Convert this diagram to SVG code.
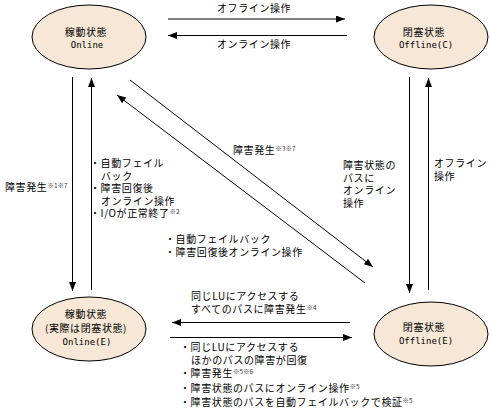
<svg xmlns="http://www.w3.org/2000/svg" width="491" height="412" viewBox="0 0 491 412">
<style>
.n{fill:#F7E7D6;stroke:#000;stroke-width:1}
.t{font-family:"Noto Sans CJK JP","Noto Sans",sans-serif;font-size:10px;letter-spacing:0.6px;fill:#000}
.c{text-anchor:middle}
.m{font-family:"DejaVu Sans Mono","Noto Sans CJK JP",monospace;font-size:9px;fill:#000;text-anchor:middle}
.s{font-size:6.5px;letter-spacing:0;fill:#333}
.l{stroke:#000;stroke-width:1;fill:none;marker-end:url(#ah)}
</style>
<defs>
<marker id="ah" markerUnits="userSpaceOnUse" markerWidth="10" markerHeight="8" refX="9" refY="3.5" orient="auto">
<path d="M0,0 L9,3.5 L0,7 z" fill="#000"/>
</marker>
</defs>
<rect width="491" height="412" fill="#fff"/>
<g id="online">
<ellipse class="n" cx="89" cy="37" rx="57" ry="32"/>
<text class="t c" x="86" y="36">稼動状態</text>
<text class="m" x="87" y="48">Online</text>
</g>
<g id="offline-c">
<ellipse class="n" cx="431" cy="37" rx="57" ry="32"/>
<text class="t c" x="424" y="36">閉塞状態</text>
<text class="m" x="426" y="48">Offline(C)</text>
</g>
<g id="online-e">
<ellipse class="n" cx="89" cy="329" rx="57" ry="32"/>
<text class="t c" x="86" y="318">稼動状態<tspan x="86" dy="13.5">(実際は閉塞状態)</tspan></text>
<text class="m" x="87" y="345">Online(E)</text>
</g>
<g id="offline-e">
<ellipse class="n" cx="431" cy="334" rx="57" ry="32"/>
<text class="t c" x="424" y="331">閉塞状態</text>
<text class="m" x="426" y="344">Offline(E)</text>
</g>
<g id="connectors">
<line class="l" x1="168" y1="19" x2="345" y2="19"/>
<line class="l" x1="347" y1="35.5" x2="168" y2="35.5"/>
<line class="l" x1="72.5" y1="77" x2="72.5" y2="291"/>
<line class="l" x1="91.5" y1="290" x2="91.5" y2="78"/>
<line class="l" x1="409.5" y1="77" x2="409.5" y2="293"/>
<line class="l" x1="428.5" y1="290" x2="428.5" y2="78"/>
<line class="l" x1="365" y1="283" x2="117" y2="95"/>
<line class="l" x1="130" y1="80" x2="373" y2="267"/>
<line class="l" x1="350" y1="322.5" x2="172" y2="322.5"/>
<line class="l" x1="170" y1="337.5" x2="352" y2="337.5"/>
</g>
<g id="labels">
<text class="t" x="217" y="12">オフライン操作</text>
<text class="t" x="217" y="48">オンライン操作</text>
<text class="t" x="5" y="191">障害発生<tspan class="s" dy="-3">※1※7</tspan></text>
<text class="t" x="90" y="167">・自動フェイル<tspan x="101" dy="12.5">バック</tspan><tspan x="90" dy="12.5">・障害回復後</tspan><tspan x="101" dy="12.5">オンライン操作</tspan><tspan x="90" dy="12.5">・I/Oが正常終了</tspan><tspan class="s" dy="-3">※2</tspan></text>
<text class="t" x="233" y="154">障害発生<tspan class="s" dy="-3">※3※7</tspan></text>
<text class="t" x="165" y="243">・自動フェイルバック<tspan x="165" dy="12.5">・障害回復後オンライン操作</tspan></text>
<text class="t" x="343" y="169">障害状態の<tspan x="343" dy="12.5">パスに</tspan><tspan x="343" dy="12.5">オンライン</tspan><tspan x="343" dy="13">操作</tspan></text>
<text class="t" x="434" y="167">オフライン<tspan x="434" dy="12.5">操作</tspan></text>
<text class="t" x="191" y="300">同じLUにアクセスする<tspan x="191" dy="13">すべてのパスに障害発生</tspan><tspan class="s" dy="-3">※4</tspan></text>
<text class="t" x="180" y="351">・同じLUにアクセスする<tspan x="191" dy="12.5">ほかのパスの障害が回復</tspan><tspan x="180" dy="13">・障害発生</tspan><tspan class="s" dy="-3">※5※6</tspan><tspan x="180" dy="18">・障害状態のパスにオンライン操作</tspan><tspan class="s" dy="-3">※5</tspan><tspan x="180" dy="17">・障害状態のパスを自動フェイルバックで検証</tspan><tspan class="s" dy="-3">※5</tspan></text>
</g>
</svg>
